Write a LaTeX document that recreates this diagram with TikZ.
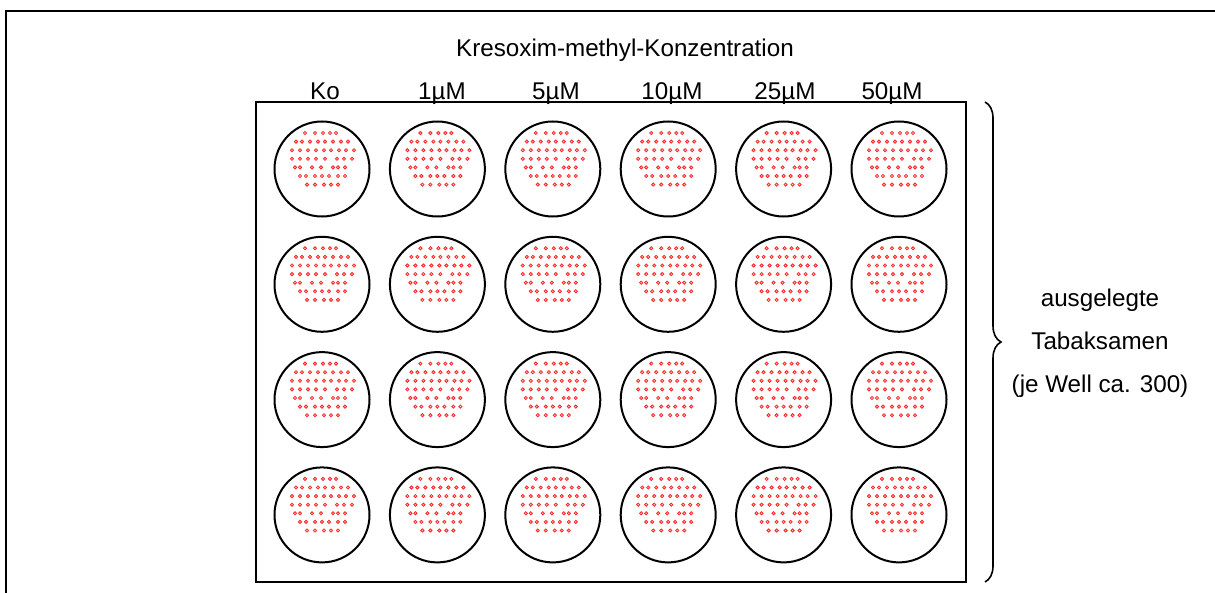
\documentclass[tikz,border=0pt]{standalone}
\usepackage{fontspec}
\setmainfont{Liberation Sans}
\usetikzlibrary{decorations.pathreplacing}

\begin{document}
\begin{tikzpicture}[x=0.5pt, y=-0.5pt,
  well/.style={circle, draw, line width=1pt, minimum size=47.5pt, inner sep=0pt},
  seed/.style={draw=red!85, fill=red!20, line width=0.4pt},
  lbl/.style={font=\fontsize{12.1}{14}\selectfont, inner sep=0pt, anchor=base}]
  \useasboundingbox (0,0) rectangle (1215,593);
  \begin{scope}
    \clip (0,0) rectangle (1215,593);
    \draw[line width=1pt] (6,11) rectangle (1240,620);
  \end{scope}
  \node[draw, line width=1pt, minimum width=355pt, minimum height=240pt, inner sep=0pt] (plate) at (611,342) {};
  \node[lbl] (title) at (625,57) {Kresoxim-methyl-Konzentration};
  \foreach \x/\txt [count=\n] in {325/Ko, 442/1µM, 556/5µM, 672/10µM, 785/25µM, 892/50µM}
    \node[lbl] (conc\n) at (\x,100) {\txt};
  % wells with seeds
  \foreach \c in {0,...,5}
  \foreach \r in {0,...,3} {
    \node[well] (w\c\r) at ({322+115.4*\c},{169+115.3*\r}) {};
    \foreach \dy/\xs in {-36/{-17,-7,1,8,14},
                         -27.4/{-26,-20,-12,-4,3,11,19,26},
                         -18.8/{-30,-22,-14,-6,2,9,17,24,32},
                         -10.2/{-30,-22,-14,-6,3,15,22,30},
                         -1.6/{-27,-22,-10,-1,11,16,23},
                         7/{-22,-16,-7,0,7,16,23},
                         15.6/{-15,-7,2,9,16}}
      \foreach \dx in \xs
        \draw[seed] ([shift={(\dx,\dy)}]w\c\r.center) circle[radius=0.8pt];
  }
  \coordinate (btop) at (985,102);
  \coordinate (bbot) at (985,582);
  \draw[line width=0.8pt, decorate, decoration={brace, amplitude=8pt}] (btop) -- (bbot);
  \node[lbl, anchor=center, align=center, font=\fontsize{12.1}{21.5}\selectfont] (seeds) at (1100,343)
    {ausgelegte\\Tabaksamen\\(je Well ca. 300)};
\end{tikzpicture}
\end{document}
